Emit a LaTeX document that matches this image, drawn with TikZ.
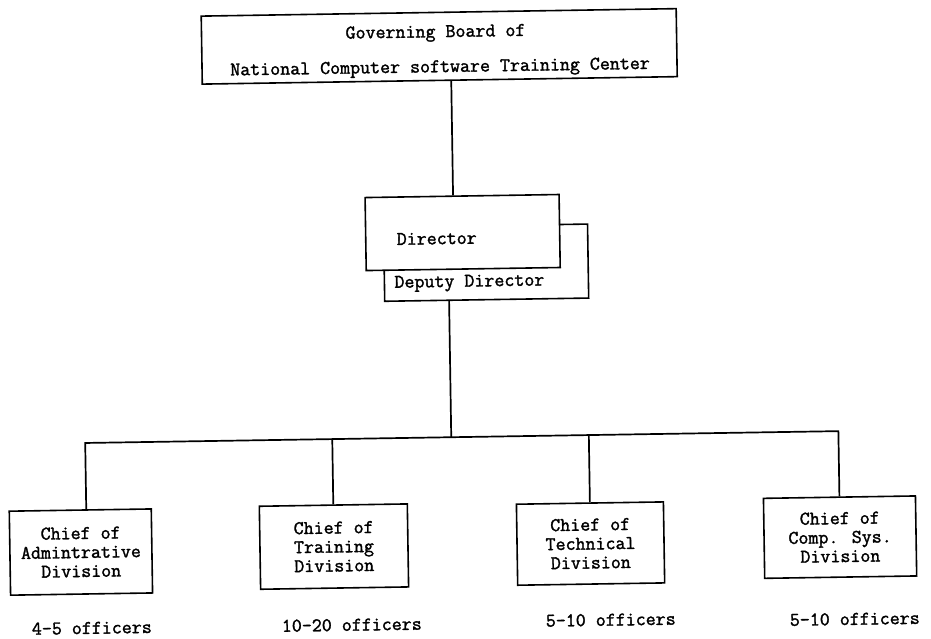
\documentclass[tikz,border=0pt]{standalone}
\usepackage{fontspec}
% heavy typewriter face for every label
\newfontfamily\printerfont{Latin Modern Mono}[FakeBold=1.6]
\begin{document}
\begin{tikzpicture}[x=1pt,y=-1pt,
  txt/.style={font=\printerfont\fontsize{19.4}{19}\selectfont, inner sep=0pt, align=center},
  unit/.style={txt, draw, line width=1.6pt, fill=white},
  link/.style={line width=1.7pt}]
\useasboundingbox (0,0) rectangle (931,638);
\begin{scope}[rotate around={0.9:(465,319)}, transform shape]
  % governing board and its two title lines
  \node[unit, minimum width=475pt, minimum height=68pt] (board) at (443.5,46) {};
  \node[txt] (boardA) at (440,33) {Governing Board of};
  \node[txt] (boardB) at (444,68) {National Computer software Training Center};
  % director with deputy behind it
  \node[unit, minimum width=204pt, minimum height=74pt] (dep) at (487,263) {};
  \node[unit, minimum width=194pt, minimum height=73pt] (dir) at (464,232.5) {};
  \node[txt] (dirtxt) at (438,238) {Director};
  \node[txt] (deptxt) at (470,283) {Deputy Director};
  % divisions
  \node[unit, minimum width=142pt, minimum height=84pt] (adm) at (77.3,546)
        {Chief of\\Admintrative\\Division};
  \node[unit, minimum width=148pt, minimum height=83pt] (trn) at (330.4,544.5)
        {Chief of\\Training\\Division};
  \node[unit, minimum width=147pt, minimum height=81pt] (tec) at (587,545.5)
        {Chief of\\Technical\\Division};
  \node[unit, minimum width=152pt, minimum height=80pt] (cmp) at (836.6,543)
        {Chief of\\Comp. Sys.\\Division};
  % staff sizes
  \node[txt] (admn) at (87,622) {4-5 officers};
  \node[txt] (trnn) at (347,623) {10-20 officers};
  \node[txt] (tecn) at (606,622) {5-10 officers};
  \node[txt] (cmpn) at (850,625) {5-10 officers};
  % connectors
  \coordinate (trunk) at (455,140);
  \coordinate (hub) at (449.4,437);
  \draw[link] (board.south -| trunk) -- (dir.north -| trunk);
  \draw[link] (dep.south -| hub) -- (hub);
  \draw[link] ([xshift=6pt]adm.north) |- (cmp.north |- hub) -- (cmp.north);
  \draw[link] (hub -| trn.north) -- (trn.north);
  \draw[link] (hub -| tec.north) -- (tec.north);
\end{scope}
\end{tikzpicture}
\end{document}
